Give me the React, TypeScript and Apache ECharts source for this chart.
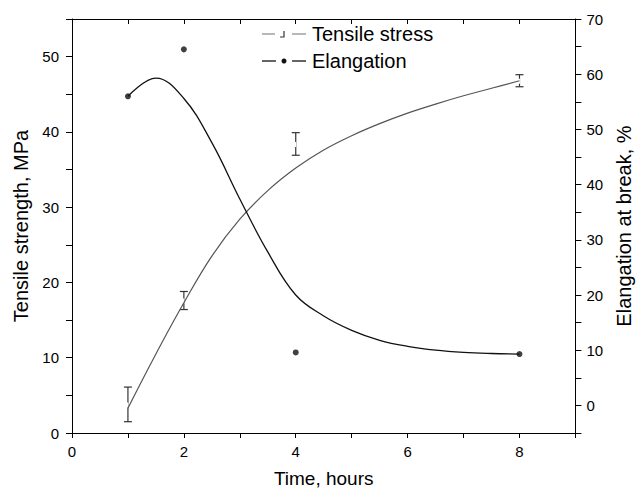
import React, { useEffect, useRef } from "react";
import * as echarts from "echarts";

// Measured points: tensile stress (MPa) with spread, and elongation at break (%)
const timeHours = [1, 2, 4, 8];
const tensileMean = [3.8, 17.6, 38.4, 46.8];
const tensileErr = [2.3, 1.2, 1.5, 0.8];
const elongation = [56, 64.5, 9.6, 9.3];

// Fitted trend curves
const fitTime = [1, 1.5, 2, 2.5, 3, 3.5, 4, 4.5, 5, 5.5, 6, 6.5, 7, 7.5, 8];
const tensileFit = [3.3, 10.5, 17.3, 23.5, 28.4, 32.2, 35.2, 37.6, 39.5, 41.1, 42.5, 43.7, 44.8, 45.8, 46.8];
const elongationFit = [56, 59.3, 55.6, 47.6, 37.4, 27.8, 20, 16.2, 13.6, 11.8, 10.7, 10, 9.6, 9.4, 9.3];

const FONT = "Liberation Sans";

export default function App() {
  const ref = useRef<HTMLDivElement>(null);

  useEffect(() => {
    if (!ref.current) return;
    const chart = echarts.init(ref.current, null, { renderer: "svg" });

    const errData = timeHours.map((t, i) => [
      t,
      tensileMean[i] - tensileErr[i],
      tensileMean[i] + tensileErr[i],
      tensileMean[i],
    ]);

    const axisCommon = {
      axisLine: { show: true, onZero: false, lineStyle: { color: "#000", width: 1 } },
      splitLine: { show: false },
    };

    chart.setOption({
      animation: false,
      backgroundColor: "#fff",
      grid: { left: 72, right: 59, top: 19, bottom: 59 },
      xAxis: [
        {
          ...axisCommon,
          type: "value",
          min: 0,
          max: 9,
          interval: 1,
          position: "bottom",
          axisTick: { show: true, inside: false, length: 5, lineStyle: { color: "#000" } },
          axisLabel: {
            margin: 11,
            fontFamily: FONT,
            fontSize: 15,
            color: "#000",
            formatter: (v: number) => (v % 2 === 0 && v < 9 ? String(v) : ""),
          },
          name: "Time, hours",
          nameLocation: "middle",
          nameGap: 36,
          nameTextStyle: { fontFamily: FONT, fontSize: 19, color: "#000" },
        },
        {
          ...axisCommon,
          type: "value",
          min: 0,
          max: 9,
          interval: 1,
          position: "top",
          axisTick: { show: true, inside: true, length: 5, lineStyle: { color: "#000" } },
          axisLabel: { show: false },
        },
      ],
      yAxis: [
        {
          ...axisCommon,
          type: "value",
          min: 0,
          max: 55,
          interval: 5,
          position: "left",
          axisTick: { show: true, inside: false, length: 6, lineStyle: { color: "#000" } },
          axisLabel: {
            margin: 13,
            fontFamily: FONT,
            fontSize: 15,
            color: "#000",
            formatter: (v: number) => (v % 10 === 0 ? String(v) : ""),
          },
          name: "Tensile strength, MPa",
          nameLocation: "middle",
          nameRotate: 90,
          nameGap: 37,
          nameTextStyle: { fontFamily: FONT, fontSize: 20, color: "#000" },
        },
        {
          ...axisCommon,
          type: "value",
          min: -5,
          max: 70,
          interval: 5,
          position: "right",
          axisTick: { show: true, inside: false, length: 6, lineStyle: { color: "#000" } },
          axisLabel: {
            margin: 11,
            fontFamily: FONT,
            fontSize: 15,
            color: "#000",
            formatter: (v: number) => (v % 10 === 0 ? String(v) : ""),
          },
          name: "Elangation at break, %",
          nameLocation: "middle",
          nameRotate: 90,
          nameGap: 35,
          nameTextStyle: { fontFamily: FONT, fontSize: 20, color: "#000" },
        },
      ],
      series: [
        {
          name: "Tensile fit",
          type: "line",
          xAxisIndex: 0,
          yAxisIndex: 0,
          smooth: 0.4,
          symbol: "none",
          data: fitTime.map((t, i) => [t, tensileFit[i]]),
          lineStyle: { color: "#555", width: 1.2 },
        },
        {
          name: "Elangation fit",
          type: "line",
          xAxisIndex: 0,
          yAxisIndex: 1,
          smooth: 0.4,
          symbol: "none",
          data: fitTime.map((t, i) => [t, elongationFit[i]]),
          lineStyle: { color: "#111", width: 1.3 },
        },
        {
          name: "Tensile stress",
          type: "custom",
          xAxisIndex: 0,
          yAxisIndex: 0,
          data: errData,
          renderItem: (_params: any, api: any) => {
            const x = api.value(0);
            const lo = api.coord([x, api.value(1)]);
            const hi = api.coord([x, api.value(2)]);
            const mid = api.coord([x, api.value(3)]);
            const cap = 4;
            const st = { stroke: "#333", lineWidth: 1.2, fill: "none" };
            return {
              type: "group",
              children: [
                { type: "line", shape: { x1: lo[0], y1: lo[1], x2: hi[0], y2: hi[1] }, style: st },
                { type: "line", shape: { x1: lo[0] - cap, y1: lo[1], x2: lo[0] + cap, y2: lo[1] }, style: st },
                { type: "line", shape: { x1: hi[0] - cap, y1: hi[1], x2: hi[0] + cap, y2: hi[1] }, style: st },
                {
                  type: "polyline",
                  shape: { points: [[mid[0] - 3, mid[1] + 2], [mid[0] - 0.5, mid[1] + 2], [mid[0] - 0.5, mid[1] - 2]] },
                  style: { stroke: "#fff", lineWidth: 2, fill: "none" },
                },
              ],
            };
          },
        },
        {
          name: "Elangation",
          type: "scatter",
          xAxisIndex: 0,
          yAxisIndex: 1,
          symbol: "circle",
          symbolSize: 6,
          data: timeHours.map((t, i) => [t, elongation[i]]),
          itemStyle: { color: "#111" },
        },
      ],
      graphic: [
        // legend: Tensile stress
        { type: "line", shape: { x1: 262, y1: 34, x2: 275, y2: 34 }, style: { stroke: "#888", lineWidth: 1.2 } },
        { type: "polyline", shape: { points: [[280, 37], [284, 37], [284, 31]] }, style: { stroke: "#333", lineWidth: 1.2, fill: "none" } },
        { type: "line", shape: { x1: 292, y1: 34, x2: 306, y2: 34 }, style: { stroke: "#888", lineWidth: 1.2 } },
        {
          type: "text",
          x: 312,
          y: 34,
          style: { text: "Tensile stress", fontFamily: FONT, fontSize: 20, fill: "#000", textVerticalAlign: "middle" },
        },
        // legend: Elangation
        { type: "line", shape: { x1: 262, y1: 61, x2: 276, y2: 61 }, style: { stroke: "#111", lineWidth: 1.3 } },
        { type: "circle", shape: { cx: 284, cy: 61, r: 2.5 }, style: { fill: "#111" } },
        { type: "line", shape: { x1: 292, y1: 61, x2: 306, y2: 61 }, style: { stroke: "#111", lineWidth: 1.3 } },
        {
          type: "text",
          x: 312,
          y: 61,
          style: { text: "Elangation", fontFamily: FONT, fontSize: 20, fill: "#000", textVerticalAlign: "middle" },
        },
      ],
    });

    return () => chart.dispose();
  }, []);

  return (
    <div
      ref={ref}
      style={{ position: "fixed", left: 0, top: 0, width: 642, height: 493, background: "#fff" }}
    />
  );
}
